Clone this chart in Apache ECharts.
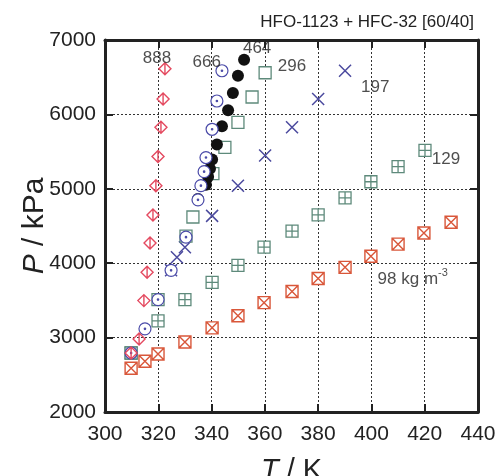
<!DOCTYPE html>
<html>
<head>
<meta charset="utf-8">
<script src="https://cdn.jsdelivr.net/npm/echarts@6/dist/echarts.min.js"></script>
<style>
  html, body { margin: 0; padding: 0; background: #fff; }
  #chart { width: 495px; height: 476px; }
</style>
</head>
<body>
<div id="chart"></div>
<script>
// Isochoric P–T data, HFO-1123 + HFC-32 [60/40]; one pair of arrays per density (kg m^-3)
const T888 = [322.5, 321.8, 321.0, 319.9, 319.1, 318.0, 316.9, 315.8, 314.6, 312.8, 309.8];
const P888 = [6614, 6207, 5828, 5435, 5042, 4649, 4270, 3877, 3497, 2982, 2793];

const T666 = [343.9, 342.0, 340.2, 337.9, 337.2, 336.0, 334.9, 330.4, 324.8, 319.9, 315.0, 309.8];
const P666 = [6587, 6180, 5800, 5420, 5230, 5042, 4852, 4350, 3904, 3511, 3118, 2793];

const T464 = [352.2, 349.9, 348.0, 346.2, 343.9, 342.0, 340.2, 339.4, 338.7, 337.9, 334.9];
const P464 = [6735, 6518, 6287, 6057, 5840, 5596, 5393, 5271, 5163, 5054, 4864];

const T296 = [360.1, 355.2, 349.9, 345.0, 340.5, 333.0, 330.4, 319.9, 309.8];
const P296 = [6560, 6234, 5894, 5556, 5203, 4621, 4363, 3511, 2793];

const T197 = [390.1, 380.0, 370.2, 360.1, 349.9, 340.2, 330.0, 327.0, 324.8, 319.9, 309.8];
const P197 = [6587, 6207, 5828, 5448, 5042, 4636, 4215, 4080, 3904, 3511, 2793];

const T129 = [420.1, 410.0, 399.8, 390.1, 380.0, 370.2, 359.7, 349.9, 340.2, 330.0, 319.9, 309.8];
const P129 = [5516, 5299, 5095, 4878, 4649, 4432, 4215, 3972, 3741, 3511, 3226, 2793];

const T98 = [429.9, 419.7, 410.0, 399.8, 390.1, 380.0, 370.2, 359.7, 349.9, 340.2, 330.0, 319.9, 315.0, 309.8];
const P98 = [4551, 4405, 4256, 4093, 3944, 3795, 3619, 3470, 3294, 3131, 2941, 2779, 2683, 2589];

// Density labels, centred on these data coordinates
const densityLabels = ['888', '666', '464', '296', '197', '129', '98'];
const labelT = [319.5, 338.2, 357.1, 370.2, 401.4, 428.0, 415.5];
const labelP = [6760, 6700, 6890, 6640, 6370, 5390, 3782];

const xTicks = [300, 320, 340, 360, 380, 400, 420, 440];
const yTicks = [2000, 3000, 4000, 5000, 6000, 7000];

const FONT = '"Liberation Sans", Arial, sans-serif';

const SYM = {
  diamondBar: 'path://M0,-1 L1,0 L0,1 L-1,0 Z M0,-1 L0,1',
  circleDot: 'path://M-1,0 A1,1 0 1 0 1,0 A1,1 0 1 0 -1,0 Z M-0.12,0 A0.12,0.12 0 1 0 0.12,0 A0.12,0.12 0 1 0 -0.12,0 Z',
  square: 'path://M0,0 L2,0 L2,2 L0,2 Z',
  squarePlus: 'path://M0,0 L2,0 L2,2 L0,2 Z M1,0 L1,2 M0,1 L2,1',
  squareCross: 'path://M0,0 L2,0 L2,2 L0,2 Z M0,0 L2,2 M2,0 L0,2',
  cross: 'path://M0,0 L2,2 M2,0 L0,2'
};

function pairs(ts, ps) { return ts.map((t, i) => [t, ps[i]]); }

function scatter(name, ts, ps, symbol, size, stroke, fill, width) {
  return {
    name: name, type: 'scatter', xAxisIndex: 0, yAxisIndex: 0,
    data: pairs(ts, ps), symbol: symbol, symbolSize: size,
    itemStyle: { color: fill, borderColor: stroke, borderWidth: width, opacity: 1 },
    emphasis: { disabled: true }, z: 3
  };
}

const chart = echarts.init(document.getElementById('chart'), null, { renderer: 'canvas' });

const gridLine = { show: true, lineStyle: { color: '#333', type: [2, 2], width: 1 } };
const frame = { show: true, onZero: false, lineStyle: { color: '#222', width: 3 } };
const ticks = { show: true, inside: true, length: 8, lineStyle: { color: '#222', width: 2 } };

chart.setOption({
  animation: false,
  backgroundColor: '#fff',
  title: {
    text: 'HFO-1123 + HFC-32 [60/40]',
    right: 16, top: 9,
    textStyle: { fontFamily: FONT, fontSize: 17, fontWeight: 'normal', color: '#222' }
  },
  grid: { left: 105, right: 17, top: 40, bottom: 64, show: false,
    containLabel: false, outerBoundsMode: 'none' },
  xAxis: [{
    type: 'value', min: 300, max: 440, interval: 20, position: 'bottom',
    axisLine: frame, axisTick: ticks,
    axisLabel: { fontFamily: FONT, fontSize: 21, color: '#222', margin: 12,
      formatter: v => xTicks.includes(v) ? String(v) : '' },
    splitLine: gridLine,
    name: '{i|T} / K', nameLocation: 'middle', nameGap: 44, nameMoveOverlap: false,
    nameTextStyle: { fontFamily: FONT, fontSize: 29, color: '#222',
      rich: { i: { fontFamily: FONT, fontSize: 29, fontStyle: 'italic', color: '#222' } } }
  }, {
    type: 'value', min: 300, max: 440, interval: 20, position: 'top',
    axisLine: frame, axisTick: ticks,
    axisLabel: { show: false }, splitLine: { show: false }
  }],
  yAxis: [{
    type: 'value', min: 2000, max: 7000, interval: 1000, position: 'left',
    axisLine: frame, axisTick: ticks,
    axisLabel: { fontFamily: FONT, fontSize: 21, color: '#222', margin: 9,
      formatter: v => yTicks.includes(v) ? String(v) : '' },
    splitLine: gridLine,
    name: '{i|P} / kPa', nameLocation: 'middle', nameGap: 55, nameRotate: 90, nameMoveOverlap: false,
    nameTextStyle: { fontFamily: FONT, fontSize: 30, color: '#222',
      rich: { i: { fontFamily: FONT, fontSize: 30, fontStyle: 'italic', color: '#222' } } }
  }, {
    type: 'value', min: 2000, max: 7000, interval: 1000, position: 'right',
    axisLine: frame, axisTick: ticks,
    axisLabel: { show: false }, splitLine: { show: false }
  }],
  series: [
    scatter('98', T98, P98, SYM.squareCross, 12, '#d9573a', '#fff', 1.4),
    scatter('129', T129, P129, SYM.squarePlus, 12, '#5e8a7b', '#fff', 1.3),
    scatter('197', T197, P197, SYM.cross, 12, '#4b4a9e', 'rgba(0,0,0,0)', 1.5),
    scatter('296', T296, P296, SYM.square, 12, '#5e8a7b', '#fff', 1.3),
    scatter('464', T464, P464, 'circle', 12, '#111', '#111', 0),
    scatter('666', T666, P666, SYM.circleDot, 12, '#4a4aa8', '#fff', 1.2),
    scatter('888', T888, P888, SYM.diamondBar, 12, '#e44a60', 'rgba(0,0,0,0)', 1.4),
    {
      name: 'labels', type: 'scatter', symbolSize: 0, silent: true, z: 5,
      data: densityLabels.map((s, i) => ({ value: [labelT[i], labelP[i]], name: s })),
      label: {
        show: true, position: 'inside', fontFamily: FONT, fontSize: 17, color: '#222',
        formatter: p => p.name === '98' ? '{a|98 kg m}{s|-3}' : p.name,
        rich: {
          a: { fontFamily: FONT, fontSize: 17, color: '#222' },
          s: { fontFamily: FONT, fontSize: 11, color: '#222', verticalAlign: 'top', padding: [0, 0, 12, 0] }
        }
      }
    }
  ]
});
</script>
</body>
</html>
